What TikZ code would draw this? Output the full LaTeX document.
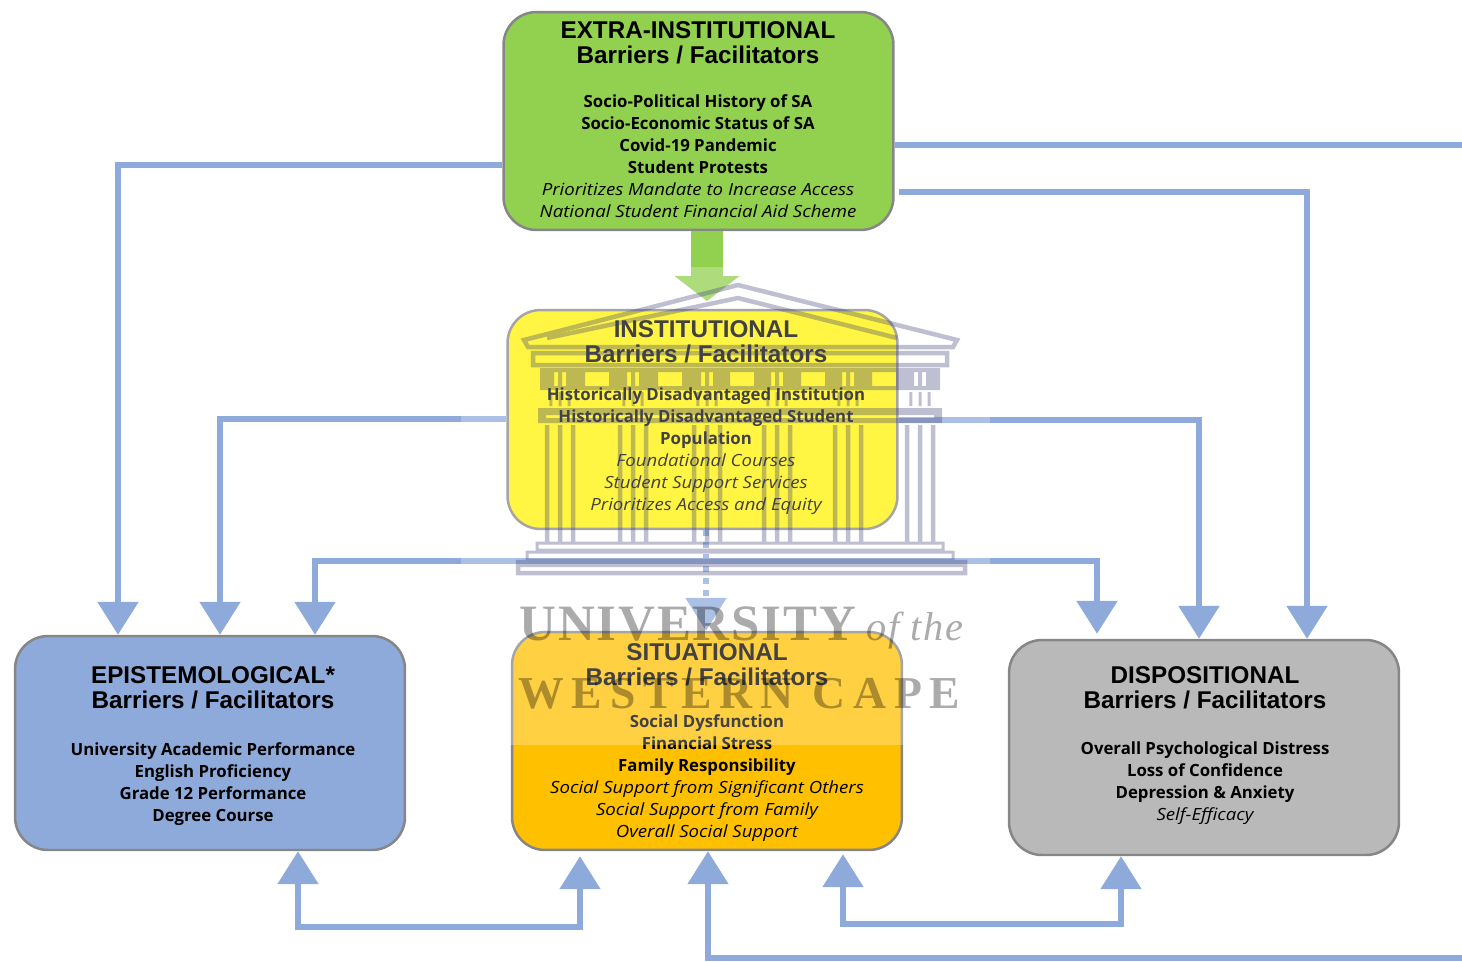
\documentclass[tikz,border=0pt]{standalone}
\usepackage{fontspec}
\setmainfont{Open Sans}
\newfontfamily\titlefont{Liberation Sans}
\newfontfamily\italfont[FakeStretch=1.11]{Open Sans}
\newfontfamily\crestfont[LetterSpace=3.7]{Liberation Serif}
\newfontfamily\crestwide[LetterSpace=17]{Liberation Serif}
\usetikzlibrary{arrows.meta}
\definecolor{flowblue}{HTML}{8EAADB}
\definecolor{extragreen}{HTML}{92D050}
\definecolor{epistblue}{HTML}{8EAADB}
\definecolor{situorange}{HTML}{FFC000}
\definecolor{dispgrey}{HTML}{B9B9B9}
\definecolor{crestink}{HTML}{3C3C78}
\newcommand{\barhead}[1]{{\titlefont\bfseries\fontsize{13.8}{14.2}\selectfont #1}}
\newcommand{\barline}[1]{{\bfseries #1}}
\newcommand{\barital}[1]{{\italfont\itshape #1}}

\begin{document}
\begin{tikzpicture}[x=0.02cm, y=-0.02cm, >={Triangle[width=.8cm,length=.66cm]},
  barbox/.style={draw=gray!95, line width=.05cm, rounded corners=.66cm, minimum width=7.8cm, minimum height=#1},
  bartext/.style={align=center, text=black, inner sep=0pt, font=\fontsize{9.55}{12.5}\selectfont},
  flow/.style={draw=flowblue, line width=.11cm},
  crestline/.style={draw=crestink, line width=.09cm}]
\useasboundingbox (0,0) rectangle (1462,961);
\node[barbox=4.36cm, fill=extragreen] (extra) at (698.5,121) {};
\node[barbox=4.38cm, fill=yellow] (inst) at (702.5,419.5) {};
\node[barbox=4.28cm, fill=epistblue] (epist) at (210,743) {};
\node[barbox=4.36cm, fill=situorange] (situ) at (707,741) {};
\node[barbox=4.3cm, fill=dispgrey] (disp) at (1204,747.5) {};
\node[bartext] (extratext) at (698,119.5) {\barhead{EXTRA-INSTITUTIONAL}\\[1.6pt]\barhead{Barriers / Facilitators}\\[12.7pt]
  \barline{Socio-Political History of SA}\\\barline{Socio-Economic Status of SA}\\\barline{Covid-19 Pandemic}\\\barline{Student Protests}\\
  \barital{Prioritizes Mandate to Increase Access}\\\barital{National Student Financial Aid Scheme}};
\node[bartext] (insttext) at (706,417.5) {\barhead{INSTITUTIONAL}\\[1.6pt]\barhead{Barriers / Facilitators}\\[9.3pt]
  \barline{Historically Disadvantaged Institution}\\\barline{Historically Disadvantaged Student}\\\barline{Population}\\
  \barital{Foundational Courses}\\\barital{Student Support Services}\\\barital{Prioritizes Access and Equity}};
\node[bartext] (episttext) at (213,746) {\barhead{EPISTEMOLOGICAL*}\\[1.6pt]\barhead{Barriers / Facilitators}\\[14.4pt]
  \barline{University Academic Performance}\\\barline{English Proficiency}\\\barline{Grade 12 Performance}\\\barline{Degree Course}};
\node[bartext] (situtext) at (707,742.5) {\barhead{SITUATIONAL}\\[1.6pt]\barhead{Barriers / Facilitators}\\[11.8pt]
  \barline{Social Dysfunction}\\\barline{Financial Stress}\\\barline{Family Responsibility}\\
  \barital{Social Support from Significant Others}\\\barital{Social Support from Family}\\\barital{Overall Social Support}};
\node[bartext] (disptext) at (1205,745.5) {\barhead{DISPOSITIONAL}\\[1.6pt]\barhead{Barriers / Facilitators}\\[13.8pt]
  \barline{Overall Psychological Distress}\\\barline{Loss of Confidence}\\\barline{Depression \& Anxiety}\\\barital{Self-Efficacy}};
\coordinate (rimupper) at (1462,145);
\coordinate (rimlower) at (1462,958);
\draw[draw=extragreen, line width=.64cm, -{Triangle[width=1.28cm,length=.5cm]}] (707,0 |- extra.south) -- (707,301);
\draw[flow] (extra.east |- rimupper) -- (rimupper);
\draw[flow,->] (extra.west |- 0,165) -- (118,165) -- (118,0 |- epist.north);
\draw[flow,->,shorten <=.08cm] (extra.east |- 0,192) -- (1307,192) -- (1307,0 |- disp.north);
\draw[flow,->] (inst.west |- 0,419) -- (220,419) -- (220,0 |- epist.north);
\draw[flow,->] (inst.east |- 0,420) -- (1199,420) -- (1199,0 |- disp.north);
\draw[flow,<->,shorten >=.1cm] (315,0 |- epist.north) -- (315,561) -- (1097,561) -- (1097,0 |- disp.north);
\draw[flow,->,dash pattern=on .12cm off .12cm] (706,0 |- inst.south) -- (706,0 |- situ.north);
\draw[flow,<->,shorten >=.1cm] (298,0 |- epist.south) -- (298,927) -- (580,927) -- (580,0 |- situ.south);
\draw[flow,<->,shorten <=.06cm] (843,0 |- situ.south) -- (843,924) -- (1121,924) -- (1121,0 |- disp.south);
\draw[flow,<-] (708,0 |- situ.south) -- (708,958) -- (rimlower);
\fill[white, opacity=.26] (461,267) rectangle (990,745);
\begin{scope}[opacity=.33, transparency group]
\draw[crestline] (524,340) -- (738,285) -- (957,340) -- (953,347) -- (528,347) -- cycle;
\draw[crestline] (547,338) -- (738,298) -- (897,338);
\draw[crestline] (533,353) rectangle (947,365);
\fill[crestink, even odd rule] (540,368) rectangle (940,390)
  foreach \cx in {597,670,742,813,884} {(\cx-12,372) rectangle (\cx+12,386)}
  foreach \cx in {560,633,707,777,848,920} {(\cx-6,372) rectangle (\cx-2,386) (\cx+2,372) rectangle (\cx+6,386)};
\fill[crestink, even odd rule] (538,408) rectangle (942,423) (546,415) rectangle (934,418);
\foreach \cx in {560,633,707,777,848,920} {
  \foreach \dx in {-13,0,13} {
    \draw[crestline] (\cx+\dx,425) -- (\cx+\dx,543);
    \draw[crestline, line width=.06cm] (\cx+\dx*.7,392) -- (\cx+\dx*.7,406);
  }
}
\draw[crestline, line width=.06cm] (537,543) rectangle (943,550);
\draw[crestline, line width=.06cm] (527,552) rectangle (953,560);
\draw[crestline] (518,562) rectangle (965,573);
\fill[crestink] (518,560) rectangle (965,567);
\node[anchor=base west, inner sep=0pt, font=\crestfont\bfseries\fontsize{29}{29}\selectfont] (crestone) at (519,640) {UNIVERSITY};
\node[anchor=base west, inner sep=0pt, font=\crestfont\itshape\fontsize{23}{23}\selectfont] (cresttwo) at (866,640) {of the};
\node[anchor=base west, inner sep=0pt, font=\crestwide\bfseries\fontsize{26}{26}\selectfont] (crestthree) at (518,708) {WESTERN CAPE};
\end{scope}
\end{tikzpicture}
\end{document}
